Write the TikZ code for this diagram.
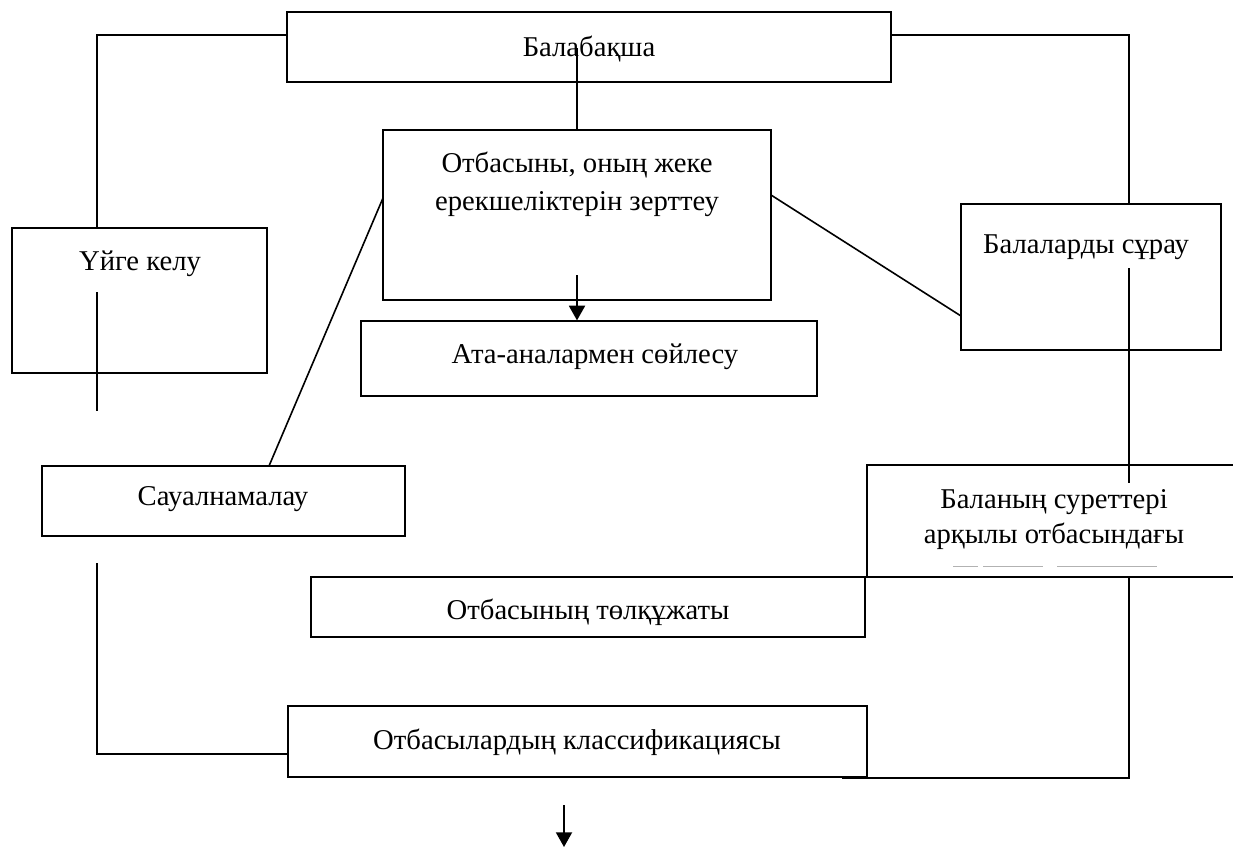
\documentclass[tikz,border=0pt]{standalone}
\usepackage{fontspec}
\setmainfont{Liberation Serif}
\usetikzlibrary{fit,arrows.meta}
\tikzset{
  box/.style={draw=black, line width=0.9pt, inner sep=0pt, fill=none},
  lbl/.style={anchor=base, inner sep=0pt, font=\fontsize{21.5}{28.5}\selectfont, align=center},
  conn/.style={line width=1.2pt, line cap=butt},
  arr/.style={line width=1.4pt, -{Triangle[width=12pt,length=11pt]}},
}
\begin{document}
\begin{tikzpicture}[x=0.75pt,y=-0.75pt]
\useasboundingbox (0,0) rectangle (1233,847);
% boxes
\node[box, fit={(287,12) (891,82)}] (bal) {};
\node[box, fit={(383,130) (771,300)}] (otb) {};
\node[box, fit={(12,228) (267,373)}] (uyge) {};
\node[box, fit={(961,204) (1221,350)}] (sura) {};
\node[box, fit={(361,321) (817,396)}] (ata) {};
\node[box, fit={(42,466) (405,536)}] (saual) {};
\node[box, fit={(311,577) (865,637)}] (tolk) {};
\node[box, fit={(288,706) (867,777)}] (klass) {};
\draw[line width=0.9pt] (1233,465) -- (867,465) -- (867,577) -- (1233,577);
% labels
\node[lbl] (tbal) at (589,56) {Балабақша};
\node[lbl] (totb1) at (577,172) {Отбасыны, оның жеке};
\node[lbl] (totb2) at (577,210) {ерекшеліктерін зерттеу};
\node[lbl] (tuyge) at (140,270) {Үйге келу};
\node[lbl] (tsura) at (1086,253) {Балаларды сұрау};
\node[lbl] (tata) at (595,363) {Ата-аналармен сөйлесу};
\node[lbl] (tsaual) at (223,505) {Сауалнамалау};
\node[lbl] (tsur1) at (1054,508) {Баланың суреттері};
\node[lbl] (tsur2) at (1054,543) {арқылы отбасындағы};
\node[lbl] (ttolk) at (588,619) {Отбасының төлқұжаты};
\node[lbl] (tklass) at (577,749) {Отбасылардың классификациясы};
% faint remains of clipped line
\draw[gray!60, line width=0.6pt] (953,566) -- (978,566) (983,566) -- (1043,566) (1057,566) -- (1157,566);
% coordinates
\coordinate (c1) at (577,48);
\coordinate (c2) at (97,35);
\coordinate (c3) at (97,228);
\coordinate (c4) at (1129,35);
\coordinate (c5) at (1129,204);
\coordinate (c6) at (97,292);
\coordinate (c7) at (97,411);
\coordinate (c8) at (383,198);
\coordinate (c9) at (269,466);
\coordinate (c10) at (771,195);
\coordinate (c11) at (961,316);
\coordinate (c12) at (1129,268);
\coordinate (c13) at (1129,483);
\coordinate (c14) at (97,563);
\coordinate (c15) at (97,754);
\coordinate (c16) at (1129,577);
\coordinate (c17) at (1129,778);
\coordinate (c18) at (842,778);
\coordinate (a1s) at (577,275);
\coordinate (a2s) at (564,805);
\coordinate (a2e) at (564,847);
% connectors
\draw[conn] (c1) -- (c1 |- otb.north);
\draw[conn] (bal.west |- c2) -- (c2) -- (c3);
\draw[conn] (bal.east |- c4) -- (c4) -- (c5);
\draw[conn] (c6) -- (c7);
\draw[conn] (c8) -- (c9);
\draw[conn] (c10) -- (c11);
\draw[conn] (c12) -- (c13);
\draw[conn] (c14) -- (c15) -- (c15 -| klass.west);
\draw[conn] (c16) -- (c17) -- (c18);
\draw[arr] (a1s) -- (a1s |- ata.north);
\draw[arr] (a2s) -- (a2e);
\end{tikzpicture}
\end{document}
